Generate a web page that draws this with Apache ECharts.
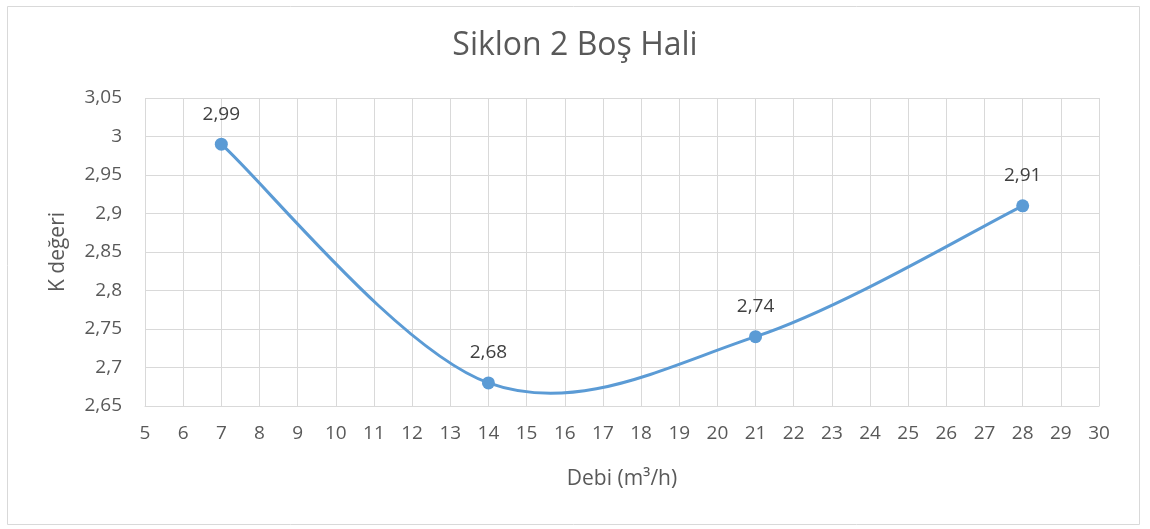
<!DOCTYPE html>
<html>
<head>
<meta charset="utf-8">
<script src="https://cdn.jsdelivr.net/npm/echarts@6/dist/echarts.min.js"></script>
<style>
  html, body { margin: 0; padding: 0; background: #fff; }
  #chart { width: 1150px; height: 529px; }
</style>
</head>
<body>
<div id="chart"></div>
<script>
// Flow rate (m³/h) and measured K value
const debi = [7, 14, 21, 28];
const kDegeri = [2.99, 2.68, 2.74, 2.91];

const titleText = 'Siklon 2 Boş Hali';
const xName = 'Debi (m³/h)';
const yName = 'K değeri';

const font = '"Open Sans", "Noto Sans", sans-serif';
const textColor = '#595959';
const lineColor = '#5B9BD5';

// Turkish decimal comma
const fmt = v => String(parseFloat(v.toFixed(2))).replace('.', ',');

// One Catmull-Rom style cubic segment between point i and i+1,
// computed in pixel space from the axis scales.
function renderSegment(params, api) {
  const i = params.dataIndex;
  const n = debi.length;
  const p = k => {
    const j = Math.max(0, Math.min(n - 1, k));
    return api.coord([debi[j], kDegeri[j]]);
  };
  const p0 = p(i - 1), p1 = p(i), p2 = p(i + 1), p3 = p(i + 2);
  return {
    type: 'bezierCurve',
    shape: {
      x1: p1[0], y1: p1[1],
      x2: p2[0], y2: p2[1],
      cpx1: p1[0] + (p2[0] - p0[0]) / 6,
      cpy1: p1[1] + (p2[1] - p0[1]) / 6,
      cpx2: p2[0] - (p3[0] - p1[0]) / 6,
      cpy2: p2[1] - (p3[1] - p1[1]) / 6
    },
    style: { stroke: lineColor, lineWidth: 3, fill: null, lineCap: 'round' },
    silent: true
  };
}

const chart = echarts.init(document.getElementById('chart'));
chart.setOption({
  backgroundColor: '#fff',
  animation: false,
  graphic: [{
    type: 'rect',
    shape: { x: 7.5, y: 6.5, width: 1132, height: 518 },
    style: { fill: 'none', stroke: '#d9d9d9', lineWidth: 1 },
    silent: true
  }],
  title: {
    text: titleText,
    left: 'center',
    top: 25,
    textStyle: { fontFamily: font, fontSize: 32, fontWeight: 'normal', color: textColor }
  },
  grid: { left: 145, right: 51, top: 98, bottom: 123 },
  xAxis: {
    type: 'value',
    min: 5, max: 30, interval: 1,
    name: xName,
    nameLocation: 'middle',
    nameGap: 63,
    nameTextStyle: { fontFamily: font, fontSize: 21, color: textColor },
    axisLine: { show: true, lineStyle: { color: '#d9d9d9', width: 1 } },
    axisTick: { show: false },
    axisLabel: { margin: 18, fontFamily: font, fontSize: 19, color: textColor },
    splitLine: { show: true, lineStyle: { color: '#d9d9d9', width: 1 } }
  },
  yAxis: {
    type: 'value',
    min: 2.65, max: 3.05, interval: 0.05,
    name: yName,
    nameLocation: 'middle',
    nameGap: 76,
    nameRotate: 90,
    nameTextStyle: { fontFamily: font, fontSize: 21, color: textColor },
    axisLine: { show: false },
    axisTick: { show: false },
    axisLabel: { margin: 23, fontFamily: font, fontSize: 19, color: textColor, formatter: fmt },
    splitLine: { show: true, lineStyle: { color: '#d9d9d9', width: 1 } }
  },
  series: [{
    type: 'custom',
    data: debi.slice(0, -1).map((x, i) => [x, kDegeri[i]]),
    renderItem: renderSegment,
    z: 2
  }, {
    type: 'scatter',
    data: debi.map((x, i) => [x, kDegeri[i]]),
    symbol: 'circle',
    symbolSize: 13,
    itemStyle: { color: lineColor, opacity: 1 },
    z: 3,
    label: {
      show: true,
      position: 'top',
      distance: 14,
      fontFamily: font,
      fontSize: 19,
      color: '#404040',
      formatter: p => fmt(p.value[1])
    }
  }]
});
</script>
</body>
</html>
